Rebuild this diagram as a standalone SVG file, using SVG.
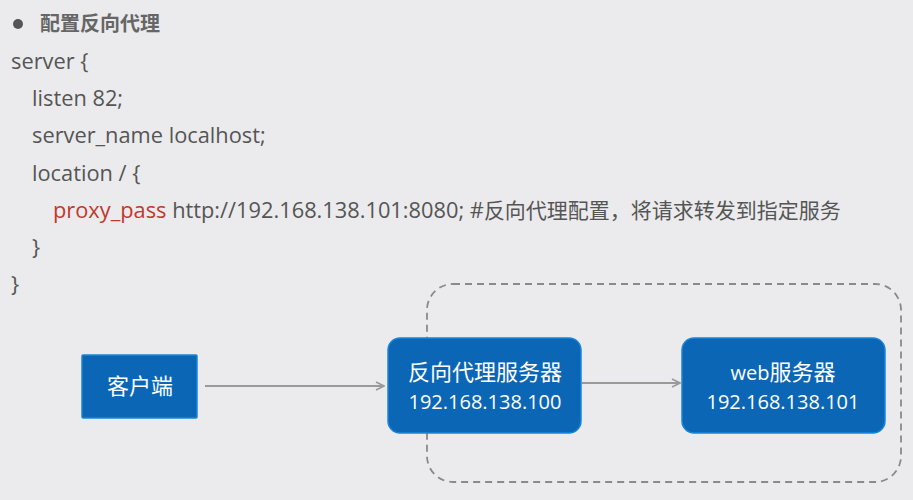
<svg xmlns="http://www.w3.org/2000/svg" width="913" height="500" viewBox="0 0 913 500">
<style>
.code{font-family:"Open Sans","Noto Sans CJK SC",sans-serif;font-size:21.8px;fill:#555555}
.cjk{font-family:"Noto Sans CJK SC",sans-serif;font-size:21px}
.red{fill:#c0392b}
.lbl{font-family:"Open Sans","Noto Sans CJK SC",sans-serif;font-size:20px;fill:#ffffff;text-anchor:middle}
.lblc{font-family:"Noto Sans CJK SC",sans-serif;font-size:22px}
.node{fill:#0b66b6;stroke:#1a86d6;stroke-width:1.5}
.conn{stroke:#9a9a9a;stroke-width:2;fill:none}
</style>
<defs>
<marker id="arr" viewBox="0 0 10 10" refX="9" refY="5" markerWidth="10" markerHeight="10" markerUnits="userSpaceOnUse" orient="auto">
<path d="M1,1 L9,5 L1,9" fill="none" stroke="#9a9a9a" stroke-width="1.6"/>
</marker>
</defs>
<rect width="913" height="500" fill="#ebebed"/>
<g id="code">
<circle cx="18" cy="24" r="5" fill="#555555"/>
<text x="40" y="31" class="code" style="font-family:'Noto Sans CJK SC',sans-serif;font-size:20px;font-weight:bold;fill:#666666">配置反向代理</text>
<text x="11" y="69" class="code">server {</text>
<text x="32" y="106" class="code">listen 82;</text>
<text x="32" y="143" class="code">server_name localhost;</text>
<text x="32" y="181" class="code">location / {</text>
<text x="53" y="218" class="code"><tspan class="red">proxy_pass</tspan> http://192.168.138.101:8080; #<tspan class="cjk">反向代理配置，将请求转发到指定服务</tspan></text>
<text x="32" y="255" class="code">}</text>
<text x="11" y="292" class="code">}</text>
</g>
<g id="group-box">
<rect x="427" y="284" width="474" height="198" rx="26" fill="none" stroke="#8a8a8a" stroke-width="1.8" stroke-dasharray="7,5"/>
</g>
<g id="connectors">
<line x1="205" y1="386" x2="384" y2="386" class="conn" marker-end="url(#arr)"/>
<line x1="582" y1="383" x2="680" y2="383" class="conn" marker-end="url(#arr)"/>
</g>
<g id="client">
<rect x="82" y="355" width="115" height="63" class="node" rx="1"/>
<text x="140" y="394" class="lbl"><tspan class="lblc">客户端</tspan></text>
</g>
<g id="proxy">
<rect x="388" y="338" width="193" height="95" rx="12" class="node"/>
<text x="485" y="380" class="lbl"><tspan class="lblc">反向代理服务器</tspan></text>
<text x="485" y="409" class="lbl">192.168.138.100</text>
</g>
<g id="web">
<rect x="682" y="338" width="203" height="95" rx="12" class="node"/>
<text x="783" y="380" class="lbl">web<tspan class="lblc">服务器</tspan></text>
<text x="783" y="409" class="lbl">192.168.138.101</text>
</g>
</svg>
